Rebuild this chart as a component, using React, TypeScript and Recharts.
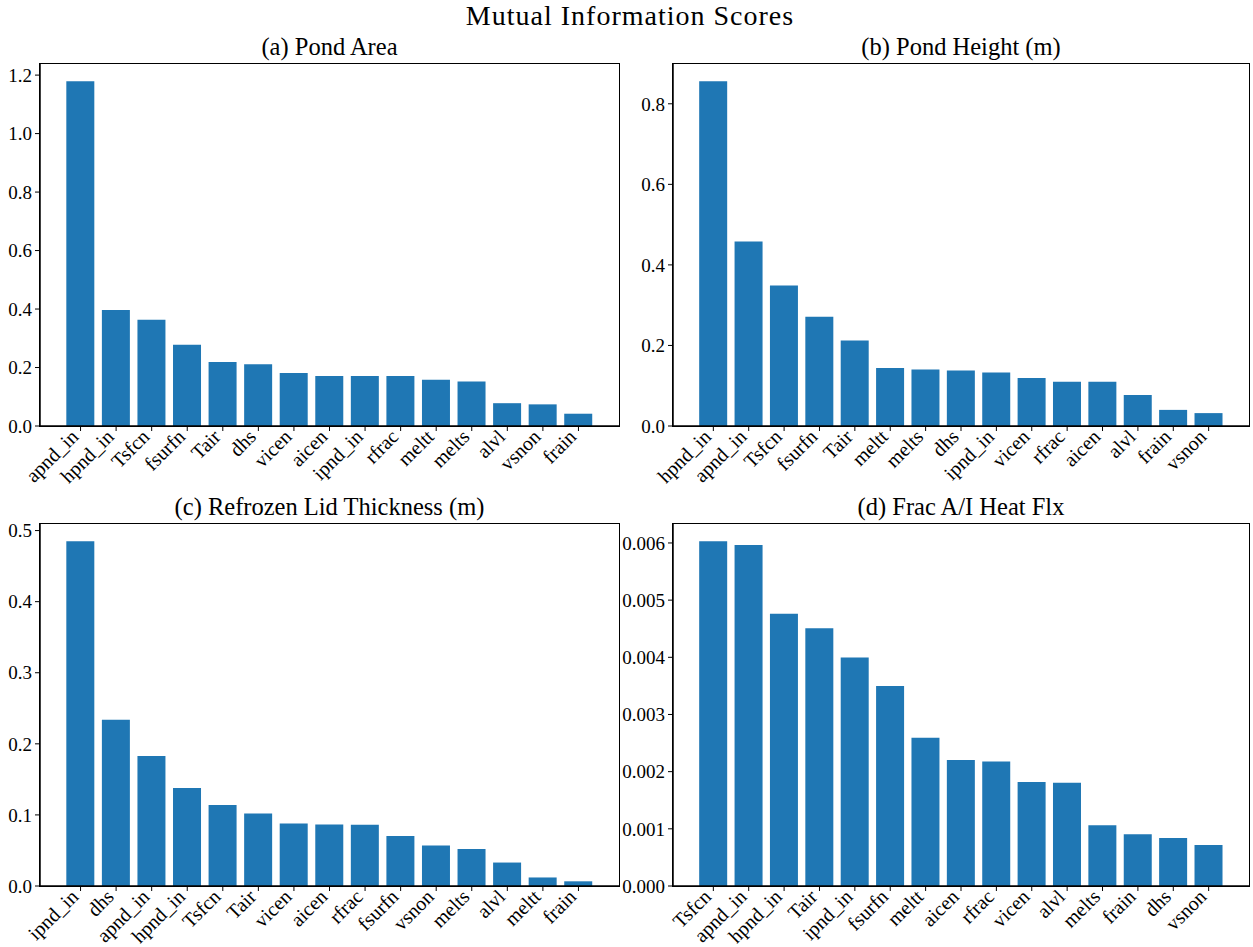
import React from "react";
import { BarChart, Bar, XAxis, YAxis } from "recharts";

// feature names and mutual information scores, one pair per target
const pondAreaNames = ["apnd_in", "hpnd_in", "Tsfcn", "fsurfn", "Tair", "dhs", "vicen", "aicen", "ipnd_in", "rfrac", "meltt", "melts", "alvl", "vsnon", "frain"];
const pondAreaScores = [1.179, 0.397, 0.363, 0.278, 0.219, 0.211, 0.181, 0.171, 0.171, 0.171, 0.158, 0.152, 0.078, 0.074, 0.042];
const pondAreaTicks = [0, 0.2, 0.4, 0.6, 0.8, 1.0, 1.2];

const pondHeightNames = ["hpnd_in", "apnd_in", "Tsfcn", "fsurfn", "Tair", "meltt", "melts", "dhs", "ipnd_in", "vicen", "rfrac", "aicen", "alvl", "frain", "vsnon"];
const pondHeightScores = [0.856, 0.458, 0.349, 0.271, 0.212, 0.144, 0.14, 0.138, 0.133, 0.119, 0.11, 0.11, 0.077, 0.04, 0.032];
const pondHeightTicks = [0, 0.2, 0.4, 0.6, 0.8];

const lidNames = ["ipnd_in", "dhs", "apnd_in", "hpnd_in", "Tsfcn", "Tair", "vicen", "aicen", "rfrac", "fsurfn", "vsnon", "melts", "alvl", "meltt", "frain"];
const lidScores = [0.485, 0.234, 0.183, 0.138, 0.114, 0.102, 0.088, 0.0865, 0.086, 0.0705, 0.057, 0.052, 0.033, 0.012, 0.0066];
const lidTicks = [0, 0.1, 0.2, 0.3, 0.4, 0.5];

const heatNames = ["Tsfcn", "apnd_in", "hpnd_in", "Tair", "ipnd_in", "fsurfn", "meltt", "aicen", "rfrac", "vicen", "alvl", "melts", "frain", "dhs", "vsnon"];
const heatScores = [0.00603, 0.005965, 0.004761, 0.00451, 0.003996, 0.0035, 0.002594, 0.002203, 0.002179, 0.001817, 0.001805, 0.001063, 0.000906, 0.000841, 0.000719];
const heatTicks = [0, 0.001, 0.002, 0.003, 0.004, 0.005, 0.006];

const FONT = '"Liberation Serif", "Times New Roman", serif';
const BAR_COLOR = "#1f77b4";
const TOP_PAD = 10;
const X_AXIS_H = 90;
const SPINE = 1.5;

// rotated category label, its end sitting just under the tick
function SlantTick({ x, y, payload }: { x?: number; y?: number; payload?: { value: string } }) {
  const ax = (x ?? 0) - 1;
  const ay = (y ?? 0) + 5;
  return (
    <text
      x={ax}
      y={ay}
      transform={`rotate(-45, ${ax}, ${ay})`}
      textAnchor="end"
      fontSize={20}
      fontFamily={FONT}
      fill="#000"
    >
      {payload?.value}
    </text>
  );
}

interface PanelProps {
  title: string;
  names: string[];
  scores: number[];
  ticks: number[];
  digits: number;
  left: number;
  top: number;
  plotW: number;
  plotH: number;
  yw: number;
}

function Panel({ title, names, scores, ticks, digits, left, top, plotW, plotH, yw }: PanelProps) {
  const data = names.map((name, i) => ({ name, score: scores[i] }));
  const ymax = Math.max(...scores) * 1.05;
  // matplotlib-style x margins: 0.64 band on each side of the 15 bars
  const pad = (plotW * 0.64) / (names.length + 1.28);
  return (
    <>
      <div
        style={{
          position: "absolute",
          left,
          top: top - 32,
          width: plotW,
          textAlign: "center",
          fontFamily: FONT,
          fontSize: 24.5,
          lineHeight: "30px",
          color: "#000",
          whiteSpace: "nowrap",
        }}
      >
        {title}
      </div>
      <div style={{ position: "absolute", left: left - yw, top: top - TOP_PAD }}>
        <BarChart
          width={yw + plotW + 4}
          height={TOP_PAD + plotH + X_AXIS_H}
          data={data}
          margin={{ top: TOP_PAD, right: 4, bottom: 0, left: 0 }}
          barCategoryGap="10%"
        >
          <XAxis
            dataKey="name"
            type="category"
            interval={0}
            height={X_AXIS_H}
            padding={{ left: pad, right: pad }}
            axisLine={{ stroke: "#000", strokeWidth: SPINE }}
            tickLine={{ stroke: "#000" }}
            tickSize={5}
            tickMargin={2}
            tick={<SlantTick />}
          />
          <YAxis
            type="number"
            domain={[0, ymax]}
            ticks={ticks}
            width={yw}
            axisLine={{ stroke: "#000", strokeWidth: SPINE }}
            tickLine={{ stroke: "#000" }}
            tickSize={5}
            tickMargin={3}
            tick={{ fill: "#000", fontSize: 19, fontFamily: FONT }}
            tickFormatter={(v: number) => v.toFixed(digits)}
          />
          <Bar dataKey="score" fill={BAR_COLOR} isAnimationActive={false} />
        </BarChart>
      </div>
      {/* axes frame (top and right spines) */}
      <div
        style={{
          position: "absolute",
          left: left - SPINE / 2,
          top: top - SPINE / 2,
          width: plotW + SPINE,
          height: plotH + SPINE,
          boxSizing: "border-box",
          border: `${SPINE}px solid #000`,
          pointerEvents: "none",
        }}
      />
    </>
  );
}

export default function App() {
  return (
    <div
      style={{
        position: "absolute",
        left: 0,
        top: 0,
        width: 1253,
        height: 947,
        background: "#fff",
        overflow: "hidden",
      }}
    >
      <div
        style={{
          position: "absolute",
          left: 0,
          top: 0,
          width: 1260,
          textAlign: "center",
          fontFamily: FONT,
          fontSize: 28,
          letterSpacing: 1,
          lineHeight: "32px",
          color: "#000",
        }}
      >
        Mutual Information Scores
      </div>
      <Panel title="(a) Pond Area" names={pondAreaNames} scores={pondAreaScores} ticks={pondAreaTicks} digits={1} left={40} top={64} plotW={579} plotH={362} yw={40} />
      <Panel title="(b) Pond Height (m)" names={pondHeightNames} scores={pondHeightScores} ticks={pondHeightTicks} digits={1} left={673} top={64} plotW={576} plotH={362} yw={52} />
      <Panel title="(c) Refrozen Lid Thickness (m)" names={lidNames} scores={lidScores} ticks={lidTicks} digits={1} left={40} top={524} plotW={579} plotH={362} yw={40} />
      <Panel title="(d) Frac A/I Heat Flx" names={heatNames} scores={heatScores} ticks={heatTicks} digits={3} left={673} top={524} plotW={576} plotH={362} yw={52} />
    </div>
  );
}
